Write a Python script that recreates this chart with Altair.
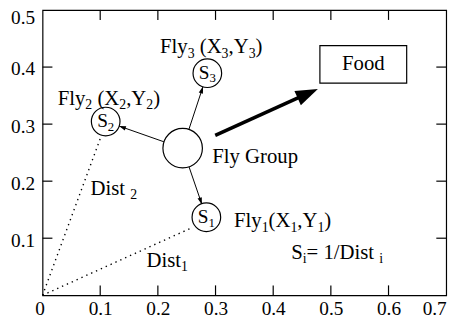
import math
import re
import altair as alt
import pandas as pd

# ---------------- data ----------------
x_tick_values = [0, 0.1, 0.2, 0.3, 0.4, 0.5, 0.6, 0.7]
y_tick_values = [0.1, 0.2, 0.3, 0.4, 0.5]
inner_x_ticks = [0.1, 0.2, 0.3, 0.4, 0.5, 0.6]
inner_y_ticks = [0.1, 0.2, 0.3, 0.4]

group_x = [0.243]
group_y = [0.2578]

fly_labels = ["S_{1}", "S_{2}", "S_{3}"]
fly_x = [0.2841, 0.1095, 0.2858]
fly_y = [0.1367, 0.3045, 0.3893]

# thin arrows: fly group -> flies
arrow_x0 = [0.2541, 0.2105, 0.2538]
arrow_y0 = [0.2249, 0.2690, 0.2907]
arrow_x1 = [0.2764, 0.1326, 0.2783]
arrow_y1 = [0.1592, 0.2967, 0.3659]

# thick arrow: fly group -> food
food_arrow_x0 = [0.2995]
food_arrow_y0 = [0.2803]
food_arrow_x1 = [0.4775]
food_arrow_y1 = [0.3616]

# dotted distance lines from origin
dist_x0 = [0.0, 0.0]
dist_y0 = [0.0, 0.0]
dist_x1 = [0.2601, 0.1032]
dist_y1 = [0.1189, 0.2832]

# food box
food_x0 = [0.481]
food_x1 = [0.6315]
food_y0 = [0.372]
food_y1 = [0.4377]
food_label = ["Food"]

# free text labels (_{..} marks a subscript)
note_text = ["Fly_{3} (X_{3},Y_{3})", "Fly_{2} (X_{2},Y_{2})", "Fly Group",
             "Fly_{1}(X_{1},Y_{1})", "Dist _{2}", "Dist_{1}", "S_{i}= 1/Dist _{i}"]
note_x = [0.2037, 0.0262, 0.2944, 0.3320, 0.0833, 0.1802, 0.4313]
note_y = [0.4244, 0.3339, 0.2313, 0.1194, 0.1765, 0.0497, 0.0640]

# ---------------- layout ----------------
W, H = 409, 289
XMAX, YMAX = 0.7, 0.5
SX, SY = W / XMAX, H / YMAX
FONT = "Liberation Serif"
HEAD = "M0,0L-0.32,1L0.32,1Z"

# Times / Liberation Serif advance widths (em)
TW = {"F": 0.556, "l": 0.278, "y": 0.5, " ": 0.25, "(": 0.333, ")": 0.333,
      "X": 0.722, "Y": 0.722, ",": 0.25, "D": 0.722, "i": 0.278, "s": 0.389,
      "t": 0.278, "S": 0.556, "=": 0.564, "/": 0.278, "G": 0.722, "r": 0.333,
      "o": 0.5, "u": 0.5, "p": 0.5}


def text_width(s, fs):
    return sum(TW.get(c, 0.5) for c in s) * fs


def parse(s):
    segs = []
    for m in re.finditer(r"_\{([^}]*)\}|([^_]+)", s):
        if m.group(1) is not None:
            segs.append((m.group(1), True))
        else:
            segs.append((m.group(2), False))
    return segs


def layout_rows(labels, xs, ys, fs, fs_sub, drop, centered):
    rows = []
    for lab, x, y in zip(labels, xs, ys):
        segs = parse(lab)
        total = sum(text_width(t, fs_sub if sb else fs) for t, sb in segs)
        cur = -total / 2 if centered else 0.0
        base = 0.3 * fs if centered else 0.0
        for t, sb in segs:
            f = fs_sub if sb else fs
            lead = len(t) - len(t.lstrip(" "))
            cur += lead * TW[" "] * f
            body = t.strip(" ")
            if body:
                rows.append({"x": x, "y": y, "t": body, "xo": round(cur, 2),
                             "yo": round(base + (drop if sb else 0.0), 2), "fs": f})
            cur += text_width(t.lstrip(" "), f)
    return pd.DataFrame(rows)


xscale = alt.Scale(domain=[0, XMAX], nice=False, zero=False)
yscale = alt.Scale(domain=[0, YMAX], nice=False, zero=False)

xaxis = alt.Axis(values=x_tick_values, format=".1~f", ticks=False, domain=False,
                 grid=False, labelFont=FONT, labelFontSize=19.5, labelColor="black",
                 labelPadding=5, title=None,
                 labelOffset={"condition": {"test": "datum.value == 0", "value": -8}, "value": 0})
yaxis = alt.Axis(values=y_tick_values, format=".1~f", ticks=False, domain=False,
                 grid=False, labelFont=FONT, labelFontSize=19.5, labelColor="black",
                 labelPadding=8, title=None,
                 labelOffset={"condition": {"test": "datum.value == 0.5", "value": 8}, "value": 2})


def X(f):
    return alt.X(f"{f}:Q", scale=xscale, axis=xaxis)


def Y(f):
    return alt.Y(f"{f}:Q", scale=yscale, axis=yaxis)


def head_angle(dx, dy):
    return math.degrees(math.atan2(dx * SX, dy * SY)) % 360


# tick rules (inward) on all four sides
df_xt = pd.DataFrame({"v": inner_x_ticks})
df_yt = pd.DataFrame({"v": inner_y_ticks})
tick_style = dict(color="black", strokeWidth=1.2)
ticks_bottom = alt.Chart(df_xt).mark_rule(**tick_style).encode(
    x=X("v"), y=alt.value(H), y2=alt.value(H - 10))
ticks_top = alt.Chart(df_xt).mark_rule(**tick_style).encode(
    x=X("v"), y=alt.value(0), y2=alt.value(10))
ticks_left = alt.Chart(df_yt).mark_rule(**tick_style).encode(
    y=Y("v"), x=alt.value(0), x2=alt.value(10))
ticks_right = alt.Chart(df_yt).mark_rule(**tick_style).encode(
    y=Y("v"), x=alt.value(W), x2=alt.value(W - 10))

# dotted distance lines
df_dist = pd.DataFrame({"x0": dist_x0, "y0": dist_y0, "x1": dist_x1, "y1": dist_y1})
dist_lines = alt.Chart(df_dist).mark_rule(
    color="black", strokeWidth=1.4, strokeDash=[1.4, 4]).encode(
    x=X("x0"), y=Y("y0"), x2="x1:Q", y2="y1:Q")

# thin arrows
df_arr = pd.DataFrame({"x0": arrow_x0, "y0": arrow_y0, "x1": arrow_x1, "y1": arrow_y1})
df_arr["angle"] = [head_angle(a - b, c - d) for a, b, c, d in
                   zip(df_arr.x1, df_arr.x0, df_arr.y1, df_arr.y0)]
arr_lines = alt.Chart(df_arr).mark_rule(color="black", strokeWidth=1).encode(
    x=X("x0"), y=Y("y0"), x2="x1:Q", y2="y1:Q")
arr_heads = alt.Chart(df_arr).mark_point(
    shape=HEAD, filled=True, color="black", opacity=1, size=196, strokeWidth=0).encode(
    x=X("x1"), y=Y("y1"), angle=alt.Angle("angle:Q", scale=None))

# thick arrow to food
fx0, fy0, fx1, fy1 = food_arrow_x0[0], food_arrow_y0[0], food_arrow_x1[0], food_arrow_y1[0]
dxp, dyp = (fx1 - fx0) * SX, (fy1 - fy0) * SY
lp = math.hypot(dxp, dyp)
back = 16.0
df_big = pd.DataFrame({
    "x0": food_arrow_x0, "y0": food_arrow_y0, "x1": food_arrow_x1, "y1": food_arrow_y1,
    "xe": [fx1 - back * dxp / lp / SX], "ye": [fy1 - back * dyp / lp / SY],
    "angle": [head_angle(fx1 - fx0, fy1 - fy0)]})
big_line = alt.Chart(df_big).mark_rule(color="black", strokeWidth=3.6).encode(
    x=X("x0"), y=Y("y0"), x2="xe:Q", y2="ye:Q")
big_head = alt.Chart(df_big).mark_point(
    shape="M0,0L-0.35,1L0.35,1Z", filled=True, color="black", opacity=1, size=2025,
    strokeWidth=0).encode(
    x=X("x1"), y=Y("y1"), angle=alt.Angle("angle:Q", scale=None))

# circles
df_group = pd.DataFrame({"x": group_x, "y": group_y})
group_circle = alt.Chart(df_group).mark_point(
    shape="circle", filled=True, fill="white", stroke="black", strokeWidth=1.2,
    opacity=1, size=1600).encode(x=X("x"), y=Y("y"))
df_fly = pd.DataFrame({"x": fly_x, "y": fly_y})
fly_circles = alt.Chart(df_fly).mark_point(
    shape="circle", filled=True, fill="white", stroke="black", strokeWidth=1.2,
    opacity=1, size=841).encode(x=X("x"), y=Y("y"))


def seg_text(df):
    return alt.Chart(df).mark_text(
        font=FONT, color="black", align="left", baseline="alphabetic",
        dx=alt.expr("datum.xo"), dy=alt.expr("datum.yo"),
        fontSize=alt.expr("datum.fs")).encode(
        x=X("x"), y=Y("y"), text="t:N")


fly_text = seg_text(layout_rows(fly_labels, fly_x, fly_y, 19.5, 13, 3.5, True))

# food box
df_food = pd.DataFrame({"x0": food_x0, "x1": food_x1, "y0": food_y0, "y1": food_y1,
                        "t": food_label})
df_food["xm"] = (df_food.x0 + df_food.x1) / 2
df_food["ym"] = (df_food.y0 + df_food.y1) / 2
food_box = alt.Chart(df_food).mark_rect(
    fill="white", stroke="black", strokeWidth=1.2).encode(
    x=X("x0"), x2="x1:Q", y=Y("y0"), y2="y1:Q")
food_text = alt.Chart(df_food).mark_text(
    font=FONT, fontSize=21, color="black", align="center", baseline="middle").encode(
    x=X("xm"), y=Y("ym"), text="t:N")

# notes
notes = seg_text(layout_rows(note_text, note_x, note_y, 21, 14, 4.5, False))

chart = alt.layer(
    ticks_bottom, ticks_top, ticks_left, ticks_right,
    dist_lines, arr_lines, arr_heads, big_line, big_head,
    group_circle, fly_circles, fly_text, food_box, food_text, notes,
).properties(
    width=W, height=H, autosize="none",
    padding={"left": 35, "top": 0, "right": 14, "bottom": 22},
    background="white",
).configure_view(stroke="black", strokeWidth=1.2)

chart.save("out.html", embed_options={"renderer": "svg", "actions": False})
